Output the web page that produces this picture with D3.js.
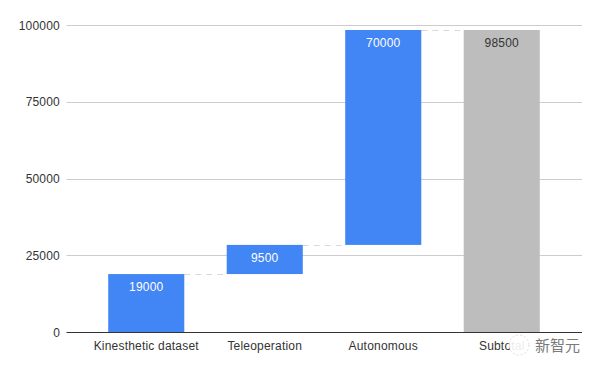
<!DOCTYPE html>
<html lang="en">
<head>
<meta charset="UTF-8">
<title>Waterfall</title>
<script src="https://d3js.org/d3.v7.min.js"></script>
<style>
  html, body { margin: 0; padding: 0; background: #fff; }
  svg { display: block; }
  text { font-family: "Liberation Sans", Arial, sans-serif; font-size: 12px; letter-spacing: 0.2px; }
</style>
</head>
<body>
<div id="chart"></div>
<script>
// chart values
var categories = ["Kinesthetic dataset", "Teleoperation", "Autonomous", "Subtotal"];
var increments = [19000, 9500, 70000, 98500];
var isTotal = [false, false, false, true];
var yTicks = [0, 25000, 50000, 75000, 100000];

var width = 600, height = 371;
var margin = {top: 25, right: 18, bottom: 39, left: 66.5};

var svg = d3.select("#chart").append("svg")
    .attr("width", width)
    .attr("height", height);

// running totals for the floating bars
var running = 0;
var bars = categories.map(function(c, i) {
  var start = isTotal[i] ? 0 : running;
  var end = start + increments[i];
  running = end;
  return {name: c, value: increments[i], start: start, end: end, total: isTotal[i]};
});

var x = d3.scaleBand()
    .domain(categories)
    .range([87, 561])
    .paddingInner(0.358)
    .paddingOuter(0.179);

var y = d3.scaleLinear()
    .domain([0, 100000])
    .range([height - margin.bottom, margin.top]);

// gridlines
svg.append("g").selectAll("line")
    .data(yTicks.filter(function(d) { return d > 0; }))
  .enter().append("line")
    .attr("x1", margin.left)
    .attr("x2", width - margin.right)
    .attr("y1", function(d) { return Math.round(y(d)) + 0.5; })
    .attr("y2", function(d) { return Math.round(y(d)) + 0.5; })
    .attr("stroke", "#cccccc");

// y labels
svg.append("g").selectAll("text")
    .data(yTicks)
  .enter().append("text")
    .attr("x", 60)
    .attr("y", function(d) { return y(d) + 4.5; })
    .attr("text-anchor", "end")
    .attr("fill", "#333333")
    .text(function(d) { return d; });

// dashed connectors between bars
svg.append("g").selectAll("line")
    .data(bars.slice(0, -1))
  .enter().append("line")
    .attr("x1", function(d) { return x(d.name) + x.bandwidth(); })
    .attr("x2", function(d, i) { return x(bars[i + 1].name); })
    .attr("y1", function(d) { return Math.round(y(d.end)) + 0.5; })
    .attr("y2", function(d) { return Math.round(y(d.end)) + 0.5; })
    .attr("stroke", "#d9d9d9")
    .attr("stroke-dasharray", "6 5");

// bars
svg.append("g").selectAll("rect")
    .data(bars)
  .enter().append("rect")
    .attr("x", function(d) { return x(d.name); })
    .attr("width", x.bandwidth())
    .attr("y", function(d) { return y(d.end) + 0.4; })
    .attr("height", function(d) { return y(d.start) - y(d.end); })
    .attr("fill", function(d) { return d.total ? "#bdbdbd" : "#4285f4"; });

// value labels
svg.append("g").selectAll("text")
    .data(bars)
  .enter().append("text")
    .attr("x", function(d) { return x(d.name) + x.bandwidth() / 2; })
    .attr("y", function(d) { return y(d.end) + 17; })
    .attr("text-anchor", "middle")
    .attr("fill", function(d) { return d.total ? "#333333" : "#ffffff"; })
    .text(function(d) { return d.value; });

// x axis
svg.append("line")
    .attr("x1", margin.left)
    .attr("x2", width - margin.right)
    .attr("y1", y(0) + 0.5)
    .attr("y2", y(0) + 0.5)
    .attr("stroke", "#333333");

svg.append("g").selectAll("text")
    .data(categories)
  .enter().append("text")
    .attr("x", function(d) { return x(d) + x.bandwidth() / 2; })
    .attr("y", 350)
    .attr("text-anchor", "middle")
    .attr("fill", "#333333")
    .text(function(d) { return d; });

// watermark over the last label
svg.append("circle")
    .attr("cx", 519)
    .attr("cy", 345)
    .attr("r", 10)
    .attr("fill", "#ffffff")
    .attr("fill-opacity", 0.9)
    .attr("stroke", "#dddddd")
    .attr("stroke-dasharray", "2 2");

svg.append("text")
    .attr("x", 535)
    .attr("y", 351)
    .attr("fill", "#7a7a7a")
    .style("font-family", "'Noto Sans CJK SC'")
    .style("font-size", "15px")
    .style("letter-spacing", "0")
    .text("新智元");
</script>
</body>
</html>
